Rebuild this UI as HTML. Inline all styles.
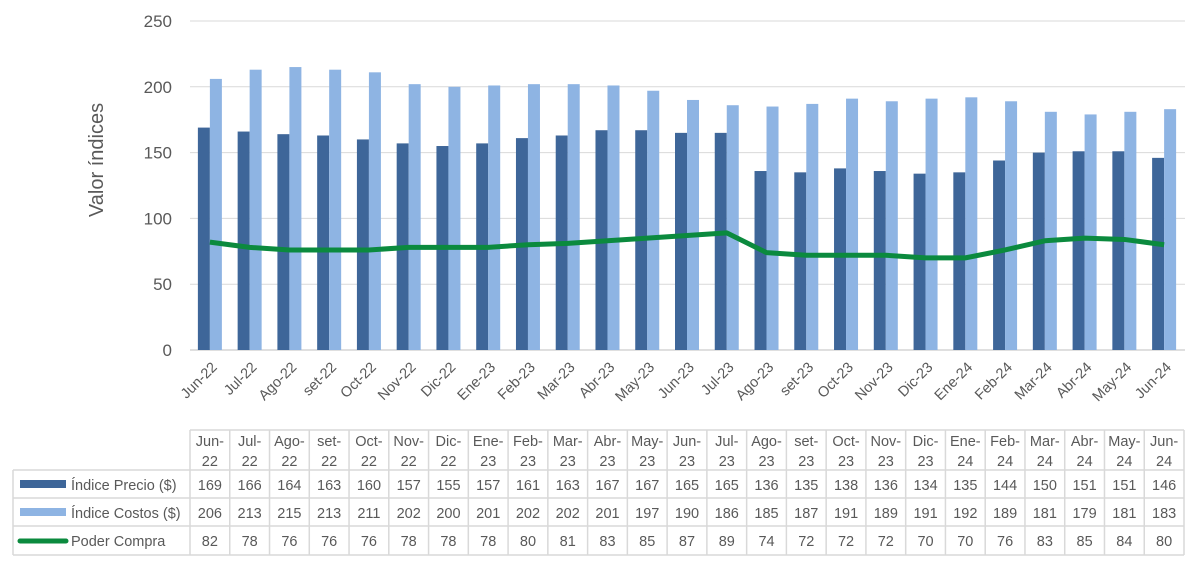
<!DOCTYPE html>
<html><head><meta charset="utf-8"><style>
body{margin:0;background:#fff;width:1200px;height:573px;overflow:hidden;font-family:"Liberation Sans",sans-serif}
</style></head><body>
<svg id="s" width="1200" height="573" xmlns="http://www.w3.org/2000/svg" font-family="Liberation Sans, sans-serif"></svg>
<script>
var m=["Jun-22","Jul-22","Ago-22","set-22","Oct-22","Nov-22","Dic-22","Ene-23","Feb-23","Mar-23","Abr-23","May-23","Jun-23","Jul-23","Ago-23","set-23","Oct-23","Nov-23","Dic-23","Ene-24","Feb-24","Mar-24","Abr-24","May-24","Jun-24"];
var p=[169,166,164,163,160,157,155,157,161,163,167,167,165,165,136,135,138,136,134,135,144,150,151,151,146];
var c=[206,213,215,213,211,202,200,201,202,202,201,197,190,186,185,187,191,189,191,192,189,181,179,181,183];
var g=[82,78,76,76,76,78,78,78,80,81,83,85,87,89,74,72,72,72,70,70,76,83,85,84,80];
var h='',X0=190,W=39.76,Y=function(v){return 350-v*1.316};
for(var k=0;k<=5;k++){var y=Y(k*50);h+='<line x1="190" x2="1185" y1="'+y+'" y2="'+y+'" stroke="'+(k?'#d9d9d9':'#bfbfbf')+'" stroke-width="1"/>';h+='<text x="172" y="'+(y+6)+'" text-anchor="end" font-size="17" fill="#595959">'+k*50+'</text>';}
h+='<text transform="translate(103,160) rotate(-90)" text-anchor="middle" font-size="20" fill="#595959">Valor índices</text>';
var pts=[];
for(var i=0;i<25;i++){var cx=X0+W*(i+.5);
h+='<rect x="'+(cx-12)+'" y="'+Y(p[i])+'" width="12" height="'+(p[i]*1.316)+'" fill="#3E6699"/>';
h+='<rect x="'+cx+'" y="'+Y(c[i])+'" width="12" height="'+(c[i]*1.316)+'" fill="#8EB4E3"/>';
pts.push(cx+','+Y(g[i]));
h+='<text transform="translate('+(cx+8)+',368) rotate(-45)" text-anchor="end" font-size="14.5" fill="#595959">'+m[i]+'</text>';}
h+='<polyline points="'+pts.join(' ')+'" fill="none" stroke="#0B8A3E" stroke-width="5" stroke-linejoin="round"/>';
var ys=[430,470,498,526,555],st='stroke="#d9d9d9" stroke-width="1.5"';
h+='<line x1="190" x2="1184" y1="430" y2="430" '+st+'/>';
for(var r=1;r<5;r++)h+='<line x1="13" x2="1184" y1="'+ys[r]+'" y2="'+ys[r]+'" '+st+'/>';
h+='<line x1="13" x2="13" y1="470" y2="555" '+st+'/>';
for(var i=0;i<=25;i++){var x=X0+W*i;h+='<line x1="'+x+'" x2="'+x+'" y1="430" y2="555" '+st+'/>';}
for(var i=0;i<25;i++){var cx=X0+W*(i+.5),pr=m[i].split('-');
h+='<text x="'+cx+'" y="446" text-anchor="middle" font-size="14.5" fill="#595959">'+pr[0]+'-</text>';
h+='<text x="'+cx+'" y="466" text-anchor="middle" font-size="14.5" fill="#595959">'+pr[1]+'</text>';
h+='<text x="'+cx+'" y="490" text-anchor="middle" font-size="14.5" fill="#595959">'+p[i]+'</text>';
h+='<text x="'+cx+'" y="518" text-anchor="middle" font-size="14.5" fill="#595959">'+c[i]+'</text>';
h+='<text x="'+cx+'" y="546" text-anchor="middle" font-size="14.5" fill="#595959">'+g[i]+'</text>';}
h+='<rect x="20" y="480" width="46" height="8" fill="#3E6699"/><text x="71" y="490" font-size="14.5" fill="#595959">Índice Precio ($)</text>';
h+='<rect x="20" y="508" width="46" height="8" fill="#8EB4E3"/><text x="71" y="518" font-size="14.5" fill="#595959">Índice Costos ($)</text>';
h+='<line x1="20" x2="66" y1="541" y2="541" stroke="#0B8A3E" stroke-width="5" stroke-linecap="round"/><text x="71" y="546" font-size="14.5" fill="#595959">Poder Compra</text>';
document.getElementById('s').innerHTML=h;
</script>
</body></html>
